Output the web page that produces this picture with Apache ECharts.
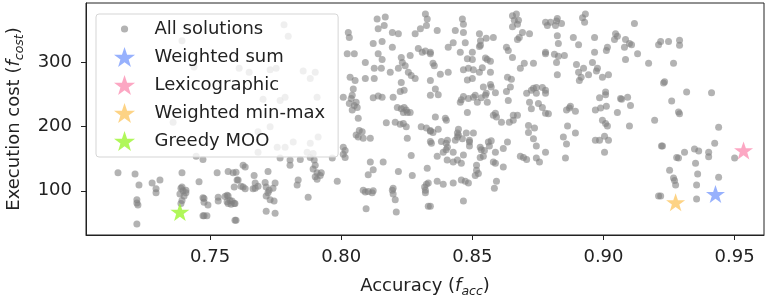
<!DOCTYPE html>
<html>
<head>
<meta charset="utf-8">
<script src="https://cdn.jsdelivr.net/npm/echarts@6/dist/echarts.min.js"></script>
<style>
  html, body { margin: 0; padding: 0; background: #fff; }
  #chart { width: 765px; height: 302px; }
</style>
</head>
<body>
<div id="chart"></div>
<script>
// accuracy / cost of every solution
var allSolutions = [
  [0.7149,128],[0.7214,126],[0.7229,109],[0.7221,86],[0.7221,81],[0.7225,78],[0.7221,48],[0.7279,112],[0.7294,103],[0.7294,97],
  [0.7309,117],[0.7393,128],[0.7393,106],[0.7397,100],[0.7401,92],[0.7393,85],[0.7389,80],[0.7408,101],[0.7408,97],[0.7458,114],
  [0.7473,89],[0.7477,82],[0.7492,78],[0.7473,61],[0.7488,61],[0.7447,154],[0.7473,149],[0.7359,207],[0.7393,334],[0.7439,293],
  [0.7385,95],[0.7389,104],
  [0.7527,128],[0.7531,84],[0.7565,93],[0.7576,85],[0.7569,80],[0.7580,79],[0.7569,130],[0.7588,128],[0.7599,129],[0.7595,54],
  [0.7595,80],[0.7592,106],[0.7603,117],[0.7634,137],[0.7626,106],[0.7634,103],[0.7668,124],[0.7672,112],[0.7664,103],
  [0.7782,359],[0.7798,341],[0.7611,291],[0.7649,285],[0.7729,289],[0.7752,291],[0.7855,287],[0.7882,275],[0.7901,285],[0.7702,243],
  [0.7767,241],[0.7786,246],[0.7908,246],[0.7729,200],[0.7683,192],[0.7756,168],[0.7817,176],[0.7882,174],[0.7912,184],[0.7683,160],
  [0.7786,168],[0.7870,160],[0.7893,158],
  [0.7626,140],[0.7767,151],[0.7805,148],[0.7805,140],[0.7844,149],[0.7882,152],[0.7897,148],[0.7901,140],[0.7908,128],[0.7721,130],
  [0.7683,107],[0.7672,104],[0.7618,107],[0.7607,117],[0.7710,113],[0.7714,106],[0.7725,101],[0.7721,97],[0.7714,92],[0.7729,86],
  [0.7744,84],[0.7832,109],[0.7836,117],[0.7874,90],[0.7531,90],[0.7557,91],[0.7569,92],[0.7565,83],[0.7584,84],[0.7592,80],
  [0.7477,88],[0.7477,61],[0.7599,54],[0.7714,68],[0.7748,65],[0.7740,104],[0.7748,112],[0.7893,134],[0.7901,122],[0.7908,118],
  [0.7985,115],
  [0.8137,368],[0.8168,371],[0.8164,358],[0.8141,353],[0.8321,376],[0.8328,368],[0.8325,358],[0.8302,353],[0.8027,347],[0.8031,339],
  [0.8156,333],[0.8122,330],[0.8195,347],[0.8218,345],[0.8282,345],[0.8023,314],[0.8050,314],[0.8092,300],[0.8141,314],[0.8156,305],
  [0.8195,324],[0.8229,308],[0.8233,300],[0.8244,295],[0.8263,311],[0.8294,322],[0.8309,316],[0.8321,318],[0.8340,316],[0.8126,291],
  [0.8153,291],[0.8187,285],[0.8218,291],[0.8256,285],[0.8267,280],[0.8282,275],[0.8034,277],[0.8053,272],[0.8092,275],[0.8126,275],
  [0.8046,259],[0.8042,249],[0.8229,269],[0.8240,257],[0.8225,255],[0.8340,272],[0.8008,246],[0.8038,244],[0.8031,236],[0.8050,233],
  [0.8057,238],[0.8061,230],[0.8042,226],[0.8122,245],[0.8141,248],[0.8156,246],[0.8198,246],[0.8214,230],[0.8229,228],[0.8240,230],
  [0.8252,222],[0.8248,226],[0.8237,222],[0.8263,222],[0.8065,213],[0.8206,207],[0.8225,204],[0.8237,205],[0.8248,200],[0.8172,206],
  [0.8305,200],[0.8325,198],[0.8340,193],[0.8069,194],[0.8080,192],[0.8057,187],[0.8065,184],[0.8084,182],[0.8111,182],[0.8252,182],
  [0.8344,174],[0.8008,168],[0.8015,163],[0.8008,157],[0.8015,152],[0.7966,151],[0.7924,128],[0.7920,124],[0.8160,145],[0.8111,145],
  [0.8122,133],[0.8103,125],[0.8218,130],[0.8271,124],[0.8267,155],[0.8328,135],[0.8332,112],[0.8084,101],[0.8092,98],[0.8118,97],
  [0.8195,101],[0.8198,95],[0.8206,86],[0.8321,101],[0.8321,97],[0.8095,72],[0.8210,67],[0.8332,76],[0.8103,99],[0.8122,100],
  [0.8198,104],[0.8318,106],[0.8325,110],
  [0.8653,373],[0.8668,376],[0.8660,366],[0.8672,360],[0.8653,356],[0.8676,366],[0.8786,358],[0.8462,368],[0.8466,360],[0.8466,347],
  [0.8435,350],[0.8366,350],[0.8527,345],[0.8531,334],[0.8553,338],[0.8580,339],[0.8691,347],[0.8718,345],[0.8679,339],[0.8672,336],
  [0.8427,331],[0.8473,331],[0.8408,324],[0.8454,316],[0.8500,316],[0.8527,325],[0.8531,327],[0.8340,314],[0.8350,299],[0.8355,295],
  [0.8630,324],[0.8637,319],[0.8653,308],[0.8779,314],[0.8481,306],[0.8500,305],[0.8550,307],[0.8557,305],[0.8569,302],[0.8569,285],
  [0.8538,292],[0.8527,285],[0.8466,289],[0.8485,291],[0.8504,289],[0.8378,282],[0.8408,285],[0.8683,291],[0.8698,299],[0.8733,299],
  [0.8634,277],[0.8649,274],[0.8645,262],[0.8630,255],[0.8481,273],[0.8500,275],[0.8542,262],[0.8569,266],[0.8572,262],[0.8553,252],
  [0.8550,249],[0.8588,253],[0.8511,249],[0.8359,259],[0.8370,250],[0.8340,249],[0.8707,252],[0.8725,257],[0.8733,260],[0.8744,261],
  [0.8744,252],[0.8767,261],[0.8458,242],[0.8454,238],[0.8466,247],[0.8485,244],[0.8504,246],[0.8519,238],[0.8557,238],[0.8534,245],
  [0.8637,241],[0.8718,238],[0.8725,228],[0.8752,236],[0.8767,230],[0.8580,218],[0.8588,221],[0.8592,215],[0.8611,207],[0.8641,207],
  [0.8656,210],[0.8656,218],[0.8672,218],[0.8359,215],[0.8397,213],[0.8401,210],[0.8481,222],[0.8340,194],[0.8350,191],[0.8370,196],
  [0.8447,196],[0.8443,190],[0.8447,187],[0.8443,184],[0.8435,179],[0.8477,190],[0.8504,190],[0.8489,179],[0.8714,202],[0.8714,191],
  [0.8737,198],[0.8733,181],[0.8744,170],[0.8634,176],[0.8340,177],[0.8382,177],[0.8405,179],[0.8400,174],[0.8405,168],[0.8400,164],
  [0.8389,160],[0.8530,168],[0.8565,170],[0.8546,163],[0.8542,154],[0.8580,145],[0.8588,143],[0.8683,154],[0.8695,152],[0.8707,149],
  [0.8744,151],[0.8756,145],[0.8427,145],[0.8466,156],[0.8618,137],[0.8366,115],[0.8389,110],[0.8427,112],[0.8458,117],[0.8473,115],
  [0.8516,140],[0.8516,132],[0.8511,124],[0.8523,127],[0.8584,104],[0.8466,84],[0.8340,76],[0.8366,154],[0.8404,148],[0.8427,160],
  [0.8443,148],[0.8458,143],[0.8489,170],[0.8485,112],[0.8530,152],[0.8534,164],[0.8561,176],[0.8572,178],[0.8588,160],[0.8592,115],
  [0.8618,166],[0.8489,176],[0.8462,181],
  [0.8779,363],[0.8798,363],[0.8821,365],[0.8840,361],[0.8817,358],[0.8824,369],[0.8920,370],[0.8931,376],[0.8928,363],[0.9118,361],
  [0.8824,342],[0.8828,330],[0.8885,339],[0.8905,328],[0.8966,339],[0.9046,345],[0.9053,341],[0.9042,336],[0.9084,336],[0.9080,324],
  [0.9099,330],[0.9107,328],[0.9130,314],[0.9015,324],[0.9011,319],[0.9210,328],[0.9172,299],[0.9084,305],[0.8779,316],[0.8813,313],
  [0.8828,310],[0.8851,311],[0.8821,300],[0.8966,316],[0.8958,300],[0.8897,297],[0.8924,291],[0.8977,291],[0.8905,285],[0.8973,287],
  [0.8943,281],[0.8915,277],[0.8908,272],[0.8824,281],[0.8996,277],[0.9019,281],[0.9229,268],[0.9008,254],[0.9008,250],[0.8985,245],
  [0.9065,244],[0.9069,243],[0.9092,246],[0.9103,233],[0.8779,257],[0.8779,252],[0.8874,232],[0.8870,229],[0.8859,226],[0.8893,224],
  [0.8969,226],[0.8989,229],[0.9011,232],[0.9053,222],[0.8779,221],[0.8790,220],[0.8996,210],[0.9008,205],[0.9015,201],[0.9099,201],
  [0.9195,210],[0.8863,201],[0.8893,190],[0.8847,184],[0.8859,173],[0.8969,179],[0.8985,179],[0.9004,185],[0.9019,179],[0.9004,160],
  [0.8779,160],[0.8855,151],[0.9221,170],[0.9210,92],
  [0.9218,333],[0.9248,333],[0.9290,335],[0.9290,327],[0.9267,299],[0.9233,270],[0.9317,254],[0.9412,253],[0.9260,240],[0.9286,223],
  [0.9290,220],[0.9439,199],[0.9424,174],[0.9225,170],[0.9279,152],[0.9286,151],[0.9309,160],[0.9347,165],[0.9363,162],[0.9401,160],
  [0.9401,153],[0.9500,151],[0.9351,143],[0.9252,132],[0.9359,126],[0.9439,121],[0.9267,120],[0.9271,116],[0.9275,109],[0.9355,109],
  [0.9355,87],[0.9218,92]
];
var weightedSum = [[0.9427, 95]];
var lexicographic = [[0.9534, 163]];
var weightedMinMax = [[0.9275, 82]];
var greedyMoo = [[0.7385, 67]];
var xTicks = [0.75, 0.80, 0.85, 0.90, 0.95];
var yTicks = [100, 200, 300];

var star = 'path://M50,0 L61.8,35.1 L98.1,35.1 L68.8,56.7 L79.4,91.3 L50,70 L20.6,91.3 L31.2,56.7 L1.9,35.1 L38.2,35.1 Z';
var dot = 'path://M0,0 M100,100 M32,50 A18,18 0 1 1 68,50 A18,18 0 1 1 32,50 Z';
var font = 'DejaVu Sans';
var fs = 18;

function starSeries(name, data, color) {
  return {
    name: name, type: 'scatter', data: data, symbol: star, symbolSize: 19,
    symbolKeepAspect: true, z: 3,
    itemStyle: { color: color }
  };
}

function axisName(fontSize) {
  return {
    rich: {
      a: { fontFamily: font, fontSize: fontSize, color: '#222' },
      i: { fontFamily: font, fontSize: fontSize, fontStyle: 'italic', color: '#222' },
      s: { fontFamily: font, fontSize: 12.5, fontStyle: 'italic', color: '#222', padding: [10, 0, 0, 0] }
    }
  };
}

var chart = echarts.init(document.getElementById('chart'), null, { renderer: 'canvas' });
chart.setOption({
  animation: false,
  textStyle: { fontFamily: font },
  grid: {
    left: 86, right: 1, top: 3, bottom: 67, show: true, borderColor: '#222', borderWidth: 1,
    containLabel: false, outerBoundsMode: 'none'
  },
  legend: {
    orient: 'vertical', left: 96, top: 14,
    padding: [5, 13, 6, 18], itemGap: 8, itemWidth: 50, itemHeight: 20,
    backgroundColor: 'rgba(255,255,255,0.8)', borderColor: '#d5d5d5', borderWidth: 1, borderRadius: 3,
    textStyle: { fontFamily: font, fontSize: fs, color: '#222' },
    data: [
      { name: 'All solutions', icon: dot },
      { name: 'Weighted sum', icon: star },
      { name: 'Lexicographic', icon: star },
      { name: 'Weighted min-max', icon: star },
      { name: 'Greedy MOO', icon: star }
    ]
  },
  xAxis: {
    type: 'value', min: 0.7027, max: 0.9612,
    name: '{a|Accuracy (}{i|f}{s|acc}{a|)}', nameLocation: 'middle', nameGap: 40,
    nameTextStyle: axisName(fs),
    splitLine: { show: false },
    axisLine: { show: true, onZero: false, lineStyle: { color: '#222' } },
    axisTick: { show: true, length: 5, customValues: xTicks, lineStyle: { color: '#222' } },
    axisLabel: { customValues: xTicks, fontSize: fs, color: '#222', margin: 13,
      formatter: function (v) { return v.toFixed(2); } }
  },
  yAxis: {
    type: 'value', min: 31, max: 393,
    name: '{a|Execution cost (}{i|f}{s|cost}{a|)}', nameLocation: 'middle', nameGap: 60,
    nameTextStyle: axisName(fs),
    splitLine: { show: false },
    axisLine: { show: true, onZero: false, lineStyle: { color: '#222' } },
    axisTick: { show: true, length: 5, customValues: yTicks, lineStyle: { color: '#222' } },
    axisLabel: { customValues: yTicks, fontSize: fs, color: '#222', margin: 14 }
  },
  series: [
    {
      name: 'All solutions', type: 'scatter', data: allSolutions, symbolSize: 7, z: 2,
      itemStyle: { color: 'rgb(128,128,128)', opacity: 0.6 }
    },
    starSeries('Weighted sum', weightedSum, '#7d9dfc'),
    starSeries('Lexicographic', lexicographic, '#fb91b4'),
    starSeries('Weighted min-max', weightedMinMax, '#fdc866'),
    starSeries('Greedy MOO', greedyMoo, '#9cf531')
  ]
});
</script>
</body>
</html>
